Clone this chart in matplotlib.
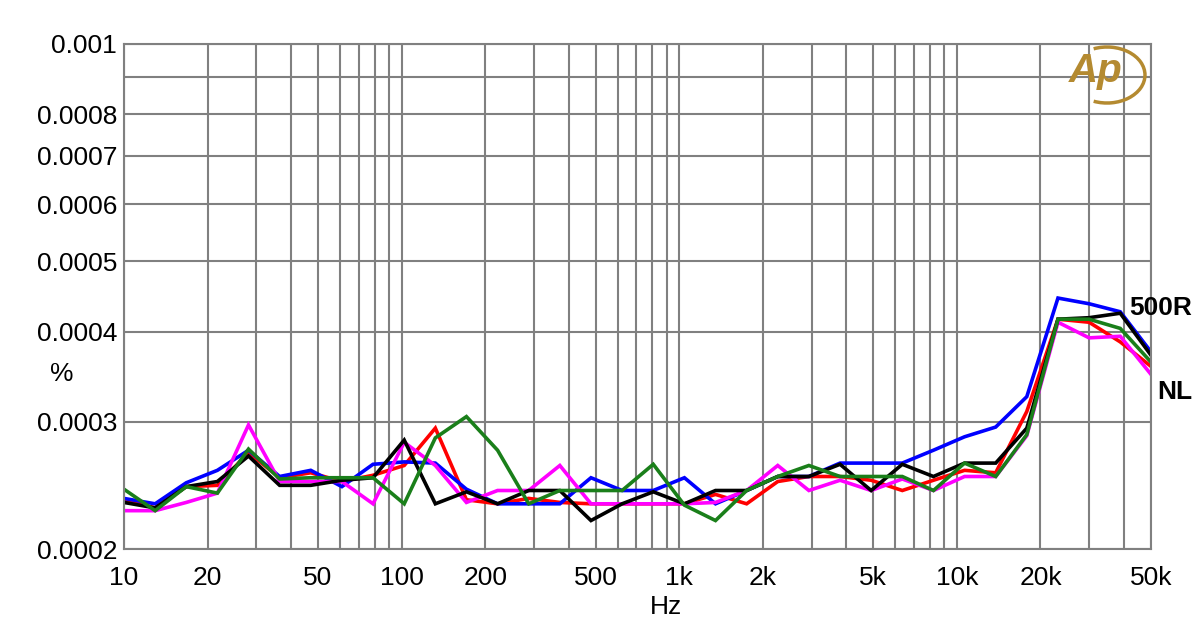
import numpy as np
import matplotlib
matplotlib.use('agg')
import matplotlib.pyplot as plt
from matplotlib.patches import Arc
from matplotlib.ticker import FixedLocator, FixedFormatter, NullFormatter

# sweep frequencies (Hz)
freq = [10, 12.95, 16.76, 21.7, 28.09, 36.37, 47.08, 60.95, 78.9, 102.2,
        132.3, 171.2, 221.7, 287.0, 371.5, 481.0, 622.7, 806.2, 1044, 1351,
        1749, 2264, 2931, 3795, 4913, 6360, 8234, 10660, 13800, 17860,
        23130, 29940, 38760, 50000]

# THD+N in units of 1e-4 %
blue = [2.35, 2.31, 2.47, 2.57, 2.74, 2.52, 2.57, 2.44, 2.62, 2.64,
        2.63, 2.42, 2.31, 2.31, 2.31, 2.51, 2.41, 2.41, 2.51, 2.31,
        2.41, 2.52, 2.52, 2.63, 2.63, 2.63, 2.74, 2.86, 2.95, 3.25,
        4.45, 4.37, 4.26, 3.75]
red = [2.34, 2.28, 2.44, 2.45, 2.72, 2.51, 2.55, 2.48, 2.53, 2.61,
       2.94, 2.34, 2.31, 2.35, 2.32, 2.31, 2.31, 2.31, 2.31, 2.38,
       2.31, 2.48, 2.52, 2.52, 2.49, 2.41, 2.49, 2.57, 2.55, 3.10,
       4.16, 4.12, 3.87, 3.58]
pink = [2.26, 2.26, 2.32, 2.39, 2.97, 2.48, 2.48, 2.48, 2.31, 2.81,
        2.61, 2.32, 2.41, 2.41, 2.61, 2.31, 2.31, 2.31, 2.31, 2.32,
        2.41, 2.61, 2.41, 2.49, 2.41, 2.50, 2.41, 2.52, 2.52, 2.87,
        4.12, 3.92, 3.94, 3.49]
black = [2.32, 2.28, 2.44, 2.48, 2.69, 2.45, 2.45, 2.49, 2.51, 2.83,
         2.31, 2.40, 2.31, 2.41, 2.41, 2.19, 2.31, 2.40, 2.31, 2.41,
         2.41, 2.52, 2.52, 2.62, 2.41, 2.62, 2.52, 2.63, 2.63, 2.94,
         4.16, 4.18, 4.24, 3.71]
green = [2.42, 2.26, 2.44, 2.39, 2.75, 2.50, 2.51, 2.51, 2.51, 2.31,
         2.85, 3.05, 2.74, 2.31, 2.41, 2.41, 2.41, 2.62, 2.30, 2.19,
         2.41, 2.52, 2.61, 2.52, 2.52, 2.52, 2.41, 2.63, 2.52, 2.88,
         4.16, 4.16, 4.04, 3.63]

xticks = [10, 20, 50, 100, 200, 500, 1000, 2000, 5000, 10000, 20000, 50000]
xlabels = ['10', '20', '50', '100', '200', '500', '1k', '2k', '5k', '10k', '20k', '50k']
yticks = [0.0002, 0.0003, 0.0004, 0.0005, 0.0006, 0.0007, 0.0008, 0.0009, 0.001]
ylabels = ['0.0002', '0.0003', '0.0004', '0.0005', '0.0006', '0.0007', '0.0008', '', '0.001']

plt.rcParams['font.family'] = ['Liberation Sans', 'DejaVu Sans']

fig = plt.figure(figsize=(12, 6.32), dpi=100)
ax = fig.add_axes([0.1033, 0.1313, 0.8558, 0.7991])

f = np.array(freq)
for data, col in [(red, '#ff0000'), (blue, '#0000ff'), (pink, '#ff00ff'),
                  (black, '#000000'), (green, '#1a7f1a')]:
    ax.plot(f, np.array(data) * 1e-4, color=col, lw=2.6, solid_joinstyle='miter')

ax.set_xscale('log')
ax.set_yscale('log')
ax.set_xlim(10, 50000)
ax.set_ylim(0.0002, 0.001)

ax.xaxis.set_major_locator(FixedLocator(xticks))
ax.xaxis.set_major_formatter(FixedFormatter(xlabels))
minor_x = [m * 10 ** d for d in range(1, 5) for m in range(1, 10) if m * 10 ** d <= 50000]
ax.xaxis.set_minor_locator(FixedLocator(minor_x))
ax.xaxis.set_minor_formatter(NullFormatter())
ax.yaxis.set_major_locator(FixedLocator(yticks))
ax.yaxis.set_major_formatter(FixedFormatter(ylabels))
ax.yaxis.set_minor_locator(FixedLocator([]))

ax.grid(True, which='both', color='#808080', lw=1.5)
ax.set_axisbelow(True)
for s in ax.spines.values():
    s.set_color('#808080')
    s.set_linewidth(1.5)
ax.tick_params(which='both', length=0, labelsize=19)
ax.tick_params(axis='x', pad=12)
ax.tick_params(axis='y', pad=5)

ax.set_xlabel('Hz', fontsize=19, va='center')
ax.xaxis.set_label_coords(0.5277, -0.115)
ax.set_ylabel('%', fontsize=19, rotation=0, va='center', ha='center')
ax.yaxis.set_label_coords(-0.0604, 0.3465)

fig.text(0.9675, 0.512, '500R', fontsize=19, fontweight='bold', ha='center', va='center')
fig.text(0.979, 0.379, 'NL', fontsize=19, fontweight='bold', ha='center', va='center')

# AP logo
gold = '#b48a30'
fig.text(0.913, 0.888, 'Ap', fontsize=29, fontstyle='italic', fontweight='bold',
         color=gold, ha='center', va='center')
fig.add_artist(Arc((0.9225, 0.8813), 0.0633, 0.0886, theta1=-105, theta2=105,
                   color=gold, lw=2.5, transform=fig.transFigure))

fig.savefig('out.png', dpi=100)
